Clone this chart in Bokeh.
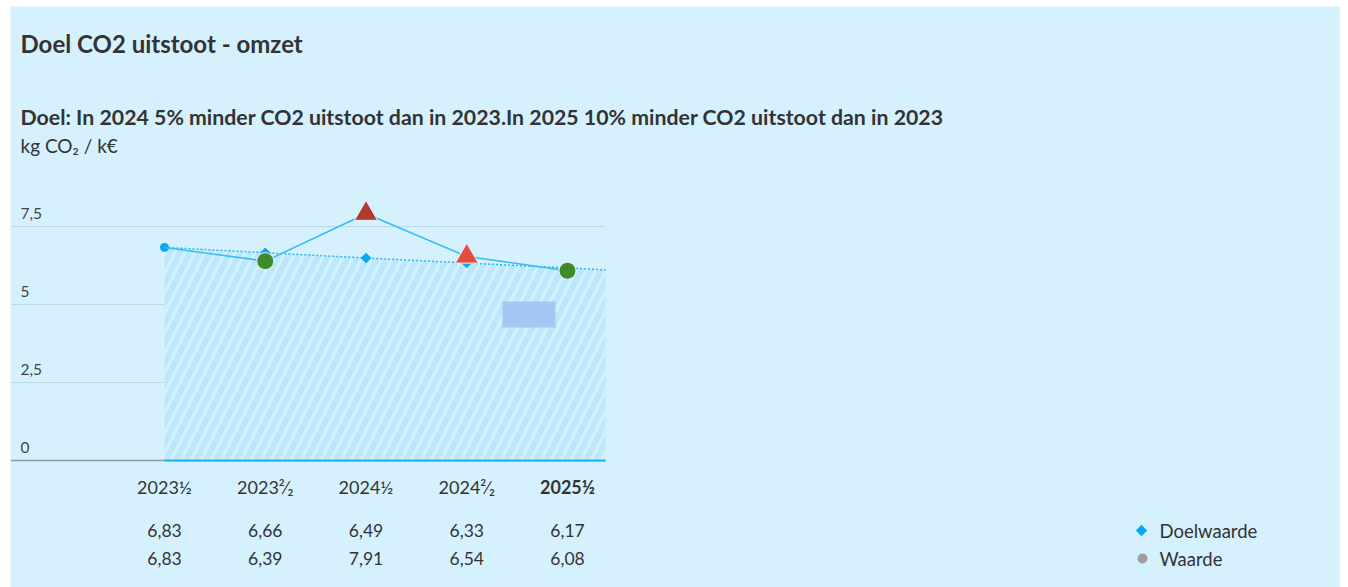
import math
from bokeh.plotting import figure
from bokeh.models import Range1d
from bokeh.core.properties import value
from bokeh.embed import file_html
from bokeh.resources import INLINE

# ---------------- data ----------------
categories = ["2023½", "2023²⁄₂", "2024½", "2024²⁄₂", "2025½"]
doelwaarde = [6.83, 6.66, 6.49, 6.33, 6.17]
waarde = [6.83, 6.39, 7.91, 6.54, 6.08]
status = ["start", "goed", "slecht", "matig", "goed"]
y_ticks = [0, 2.5, 5, 7.5]
y_tick_labels = ["0", "2,5", "5", "7,5"]
title_text = "Doel CO2 uitstoot - omzet"
subtitle_text = "Doel: In 2024 5% minder CO2 uitstoot dan in 2023.In 2025 10% minder CO2 uitstoot dan in 2023"
unit_text = "kg CO₂ / k€"
legend_labels = ["Doelwaarde", "Waarde"]

# ---------------- layout ----------------
W, H = 1340, 587
FL, FT = 10, 6          # frame origin on the page
X0_PX, DX_PX = 164, 100.75
Y0_PX, DY_PX = 460, 31.2
FONT = value("Lato")
BG = "#d6f1fe"
TXT = "#333333"


def px(xp):
    return (xp - X0_PX) / DX_PX


def py(yp):
    return (Y0_PX - yp) / DY_PX


p = figure(width=W, height=H,
           x_range=Range1d(px(FL), px(W)),
           y_range=Range1d(py(H), py(FT)),
           output_backend="svg", toolbar_location=None,
           x_axis_location=None, y_axis_location=None,
           min_border_left=FL, min_border_top=FT,
           min_border_right=0, min_border_bottom=0, tools="")
p.grid.visible = False
p.outline_line_color = None
p.background_fill_color = BG
p.border_fill_color = "white"

XL, XR = px(10), px(605)
n = len(categories)
xs = list(range(n))

# gridlines
grid_y = [t for t in y_ticks if t != 0]
p.segment(x0=[XL] * len(grid_y), y0=grid_y, x1=[XR] * len(grid_y), y1=grid_y,
          line_color="#bdd8e4", line_width=1)
p.segment(x0=[XL], y0=[0], x1=[XR], y1=[0], line_color="#8e9ca3", line_width=1.5)

# target area (extended to right edge)
slope = doelwaarde[-1] - doelwaarde[-2]
ext_y = doelwaarde[-1] + slope * (XR - xs[-1])
ax = xs + [XR]
ay = doelwaarde + [ext_y]
p.varea(x=ax, y1=[0] * len(ax), y2=ay, fill_color="#d4f2fe",
        hatch_pattern="right_diagonal_line", hatch_color="#bde7fc",
        hatch_weight=6, hatch_scale=20)
p.line(x=[xs[0], XR], y=[0, 0], line_color="#1ab0f5", line_width=2)
p.line(x=ax, y=ay, line_color="#29b6f6", line_width=1.5, line_dash="2 2")

# target markers
p.scatter(x=xs[:1], y=doelwaarde[:1], marker="circle", size=9,
          fill_color="#0ba6ee", line_color=None)
p.scatter(x=xs[1:], y=doelwaarde[1:], marker="square", size=7.5, angle=math.pi / 4,
          fill_color="#0ba6ee", line_color=None)

# actual line
p.line(x=xs, y=waarde, line_color="#35bcf7", line_width=1.5)

style = {
    "goed": ("circle", "#3f8b2c", 17),
    "slecht": ("triangle", "#b03a2e", 23),
    "matig": ("triangle", "#e84a3b", 23),
}
mx, my, mm, mc, ms = [], [], [], [], []
for i, s in enumerate(status):
    if s in style:
        m, c, sz = style[s]
        mx.append(xs[i]); my.append(waarde[i]); mm.append(m); mc.append(c); ms.append(sz)
p.scatter(x=mx, y=my, marker=mm, size=ms, fill_color=mc, line_color="#e3f4fc", line_width=1)

# artifact box
p.quad(left=[px(502)], right=[px(555)], top=[py(301)], bottom=[py(327)],
       fill_color="#a4c7f3", line_color=None)


# ---------------- texts ----------------
def txt(x, y, t, size, bold=False, align="left", color=TXT):
    p.text(x=x, y=y, text=t, text_font=FONT, text_font_size=value(f"{size}px"),
           text_font_style="bold" if bold else "normal", text_align=align,
           text_baseline="middle", text_color=color)


txt([px(20)], [py(43)], [title_text], 24, bold=True)
txt([px(20)], [py(116)], [subtitle_text], 21.3, bold=True)
txt([px(20)], [py(145)], [unit_text], 19)

txt([px(20)] * len(y_ticks), [t + 13 / DY_PX for t in y_ticks], y_tick_labels, 15.5, color="#444444")

txt(xs[:-1], [py(486)] * (n - 1), categories[:-1], 18, align="center")
txt(xs[-1:], [py(486)], categories[-1:], 18, bold=True, align="center")

fmt = lambda v: f"{v:.2f}".replace(".", ",")
txt(xs, [py(530)] * n, [fmt(v) for v in doelwaarde], 17.5, align="center")
txt(xs, [py(558)] * n, [fmt(v) for v in waarde], 17.5, align="center")

# legend
p.scatter(x=[px(1141)], y=[py(530)], marker="square", size=8, angle=math.pi / 4,
          fill_color="#0ba6ee", line_color=None)
p.scatter(x=[px(1142)], y=[py(558)], marker="circle", size=10, fill_color="#9e9e9e", line_color=None)
txt([px(1159)] * 2, [py(530), py(558)], legend_labels, 18.5)

open("out.html", "w").write(file_html(p, INLINE))
